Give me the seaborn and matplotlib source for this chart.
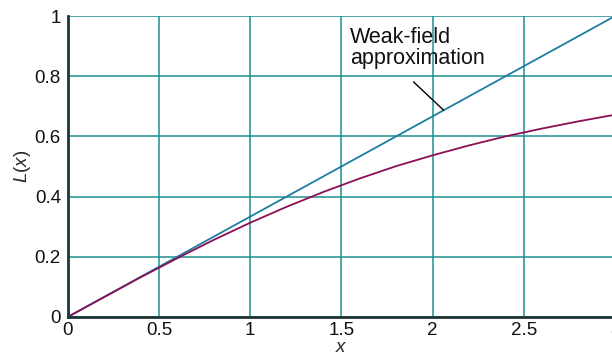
import matplotlib
matplotlib.use('Agg')
import matplotlib.pyplot as plt
import seaborn as sns
import pandas as pd

# ===== data =====
x_vals = [0, 0.2, 0.4, 0.6, 0.8, 1.0, 1.2, 1.4, 1.6, 1.8, 2.0, 2.2, 2.4, 2.6, 2.8, 3.0]
langevin = [0, 0.066, 0.132, 0.195, 0.256, 0.313, 0.366, 0.415, 0.460, 0.501,
            0.537, 0.570, 0.600, 0.626, 0.650, 0.672]
weak_x = [0, 3.0]
weak_y = [0, 1.0]

x_ticks = [0, 0.5, 1, 1.5, 2, 2.5, 3]
x_ticklabels = ['0', '0.5', '1', '1.5', '2', '2.5', '3']
y_ticks = [0, 0.2, 0.4, 0.6, 0.8, 1]
y_ticklabels = ['0', '0.2', '0.4', '0.6', '0.8', '1']

# ===== style =====
sns.set_style('white')
plt.rcParams['font.family'] = ['Liberation Sans', 'DejaVu Sans']
plt.rcParams['mathtext.fontset'] = 'custom'
plt.rcParams['mathtext.it'] = 'Liberation Sans:italic'
plt.rcParams['mathtext.rm'] = 'Liberation Sans'

grid_col = '#1f8f8f'
spine_col = '#1e3536'
weak_col = '#1d7ea3'
curve_col = '#8c0f55'
fs = 13.5

fig = plt.figure(figsize=(6.12, 3.56), dpi=100)
ax = fig.add_axes([0.111, 0.11, 0.894, 0.845])

df_curve = pd.DataFrame({'x': x_vals, 'L': langevin})
df_weak = pd.DataFrame({'x': weak_x, 'L': weak_y})

sns.lineplot(data=df_weak, x='x', y='L', ax=ax, color=weak_col, linewidth=1.3, zorder=3)
sns.lineplot(data=df_curve, x='x', y='L', ax=ax, color=curve_col, linewidth=1.3, zorder=3)

ax.set_xlim(0, 3)
ax.set_ylim(0, 1)
ax.set_xticks(x_ticks)
ax.set_xticklabels(x_ticklabels)
ax.set_yticks(y_ticks)
ax.set_yticklabels(y_ticklabels)
ax.tick_params(axis='both', length=0, labelsize=fs, colors='#111111')
ax.tick_params(axis='x', pad=4)
ax.tick_params(axis='y', pad=5)

ax.grid(True, color=grid_col, linewidth=1.1)
ax.set_axisbelow(True)
for s in ['top', 'right']:
    ax.spines[s].set_visible(False)
for s in ['left', 'bottom']:
    ax.spines[s].set_color(spine_col)
    ax.spines[s].set_linewidth(2.0)
    ax.spines[s].set_zorder(4)

ax.set_xlabel(r'$x$', fontsize=fs, labelpad=0)
ax.set_ylabel(r'$L(x)$', fontsize=fs, labelpad=1)

# label + leader line
ax.text(1.545, 0.962, 'Weak-field\napproximation', fontsize=15.5, ha='left', va='top',
        linespacing=1.0, color='#111111', zorder=5)
ax.annotate('', xy=(2.06, 0.687), xytext=(1.895, 0.781),
            arrowprops=dict(arrowstyle='-', color='black', lw=1.0, shrinkA=0, shrinkB=0),
            zorder=5)

fig.savefig('out.png', dpi=100)
